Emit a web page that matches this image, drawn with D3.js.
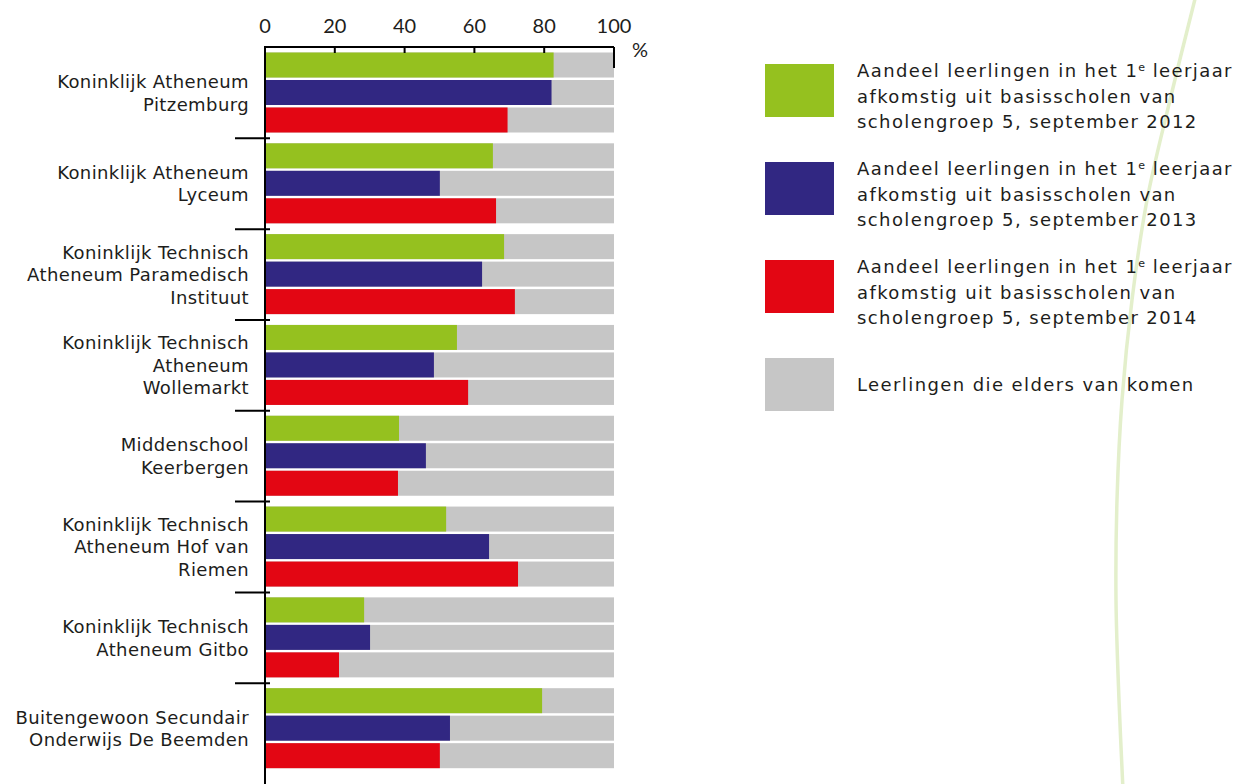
<!DOCTYPE html>
<html>
<head>
<meta charset="utf-8">
<script src="https://cdn.jsdelivr.net/npm/d3@7"></script>
<style>
  html, body { margin: 0; padding: 0; background: #fff; }
  svg { display: block; }
  text { font-family: "DejaVu Sans", "Noto Sans", sans-serif; fill: #1d1d1b; }
  .num { font-family: "Lato", "Noto Sans", sans-serif; }
</style>
</head>
<body>
<svg id="chart" width="1243" height="784"></svg>
<script>
// ---- data ----
const schools = [
  ["Koninklijk Atheneum", "Pitzemburg"],
  ["Koninklijk Atheneum", "Lyceum"],
  ["Koninklijk Technisch", "Atheneum Paramedisch", "Instituut"],
  ["Koninklijk Technisch", "Atheneum", "Wollemarkt"],
  ["Middenschool", "Keerbergen"],
  ["Koninklijk Technisch", "Atheneum Hof van", "Riemen"],
  ["Koninklijk Technisch", "Atheneum Gitbo"],
  ["Buitengewoon Secundair", "Onderwijs De Beemden"]
];
const seriesKeys = ["2012", "2013", "2014"];
const values2012 = [82.7, 65.3, 68.5, 55.0, 38.4, 51.9, 28.4, 79.4];
const values2013 = [82.1, 50.1, 62.2, 48.4, 46.1, 64.2, 30.1, 53.0];
const values2014 = [69.5, 66.2, 71.6, 58.2, 38.1, 72.5, 21.2, 50.1];
const totalValue = 100;
const xTicks = [0, 20, 40, 60, 80, 100];
const legendLabels = [
  ["Aandeel leerlingen in het 1|e| leerjaar", "afkomstig uit basisscholen van", "scholengroep 5, september 2012"],
  ["Aandeel leerlingen in het 1|e| leerjaar", "afkomstig uit basisscholen van", "scholengroep 5, september 2013"],
  ["Aandeel leerlingen in het 1|e| leerjaar", "afkomstig uit basisscholen van", "scholengroep 5, september 2014"],
  ["Leerlingen die elders van komen"]
];
const colors = ["#95c11f", "#312782", "#e30613", "#c6c6c6"];

const seriesValues = [values2012, values2013, values2014];
const ids = schools.map((d, i) => i);

// ---- layout ----
const svg = d3.select("#chart");
const x = d3.scaleLinear().domain([0, 100]).range([265, 614]);
const y = d3.scaleBand().domain(ids).range([47.5, 774]).padding(0);
const yInner = d3.scaleBand().domain(seriesKeys).range([5, 85]).paddingInner(0.09).paddingOuter(0);
const fontSize = 18;

// decorative curve
const curvePts = [[1196,-5],[1170,100],[1147,200],[1132,300],[1122,400],[1117,500],[1116,600],[1119,700],[1123,790]];
svg.append("path")
  .attr("d", d3.line().curve(d3.curveCatmullRom)(curvePts))
  .attr("fill", "none").attr("stroke", "#e3efcb").attr("stroke-width", 3.5);

// bars
const groups = svg.append("g").selectAll("g").data(ids).join("g")
  .attr("transform", i => `translate(0,${y(i)})`);

groups.each(function(i) {
  const g = d3.select(this);
  seriesKeys.forEach((k, s) => {
    g.append("rect")
      .attr("x", x(0)).attr("y", yInner(k))
      .attr("width", x(totalValue) - x(0)).attr("height", yInner.bandwidth())
      .attr("fill", colors[3]);
    g.append("rect")
      .attr("x", x(0)).attr("y", yInner(k))
      .attr("width", x(seriesValues[s][i]) - x(0)).attr("height", yInner.bandwidth())
      .attr("fill", colors[s]);
  });
});

// top axis
const gx = svg.append("g").attr("transform", `translate(0,${y.range()[0] - 0.5})`);
gx.append("line").attr("x1", x(0)).attr("x2", x(100)).attr("stroke", "#000").attr("stroke-width", 2);
gx.selectAll(".tk").data(xTicks).join("line")
  .attr("x1", d => x(d)).attr("x2", d => x(d))
  .attr("y1", 0).attr("y2", d => d === 100 ? 21 : 6)
  .attr("stroke", "#000").attr("stroke-width", 2);
gx.selectAll(".tl").data(xTicks).join("text")
  .attr("class", "num")
  .attr("x", d => x(d)).attr("y", -14)
  .attr("text-anchor", "middle").attr("font-size", 20)
  .text(d3.format("d"));
svg.append("text").attr("class", "num").attr("x", 632).attr("y", 57).attr("font-size", 20).text("%");

// left axis
svg.append("line").attr("x1", x(0)).attr("x2", x(0))
  .attr("y1", y.range()[0] - 1.5).attr("y2", 784)
  .attr("stroke", "#000").attr("stroke-width", 2);
svg.selectAll(".ytick").data(ids.slice(1)).join("line")
  .attr("x1", x(0) - 30).attr("x2", x(0) + 5)
  .attr("y1", i => y(i)).attr("y2", i => y(i))
  .attr("stroke", "#000").attr("stroke-width", 2);

// y labels
const lineH = 22.5;
svg.selectAll(".ylab").data(ids).join("text")
  .attr("text-anchor", "end").attr("font-size", fontSize)
  .attr("letter-spacing", 0.4)
  .each(function(i) {
    const lines = schools[i];
    const c = y(i) + y.bandwidth() / 2;
    d3.select(this).selectAll("tspan").data(lines).join("tspan")
      .attr("x", 249)
      .attr("y", (d, j) => c + (j - (lines.length - 1) / 2) * lineH + 6.5)
      .text(d => d);
  });

// legend
const legY = d3.scaleBand().domain(d3.range(legendLabels.length)).range([64, 64 + 98 * 4]).padding(0);
const leg = svg.append("g").selectAll("g").data(legendLabels).join("g")
  .attr("transform", (d, i) => `translate(765,${legY(i)})`);
leg.append("rect").attr("width", 69).attr("height", 53).attr("fill", (d, i) => colors[i]);
leg.each(function(lines) {
  const g = d3.select(this);
  const n = lines.length;
  lines.forEach((line, j) => {
    const t = g.append("text").attr("x", 92).attr("font-size", fontSize)
      .attr("letter-spacing", 1.4)
      .attr("y", n === 1 ? 33 : 13 + j * 25.5);
    const parts = line.split("|");
    parts.forEach((p, k) => {
      const ts = t.append("tspan").text(p);
      if (k === 1) ts.attr("font-size", 11).attr("dy", -6).attr("letter-spacing", 0.5);
      if (k === 2) ts.attr("dy", 6);
    });
  });
});
</script>
</body>
</html>
